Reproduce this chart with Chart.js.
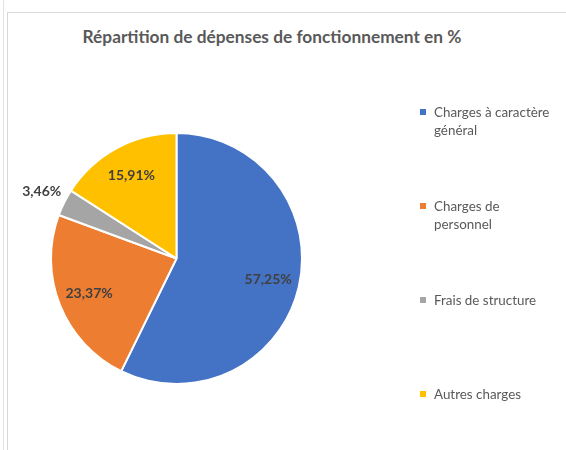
<!DOCTYPE html>
<html>
<head>
<meta charset="utf-8">
<script src="https://cdn.jsdelivr.net/npm/chart.js@4"></script>
<style>
  body { margin: 0; background: #fff; font-family: Lato, "Open Sans", sans-serif; }
  #wrap { position: relative; width: 566px; height: 450px; overflow: hidden; }
  #frame { position: absolute; left: 7px; top: 12px; width: 570px; height: 450px;
           border-left: 1px solid #d9d9d9; border-top: 1px solid #d9d9d9; }
  #edge { position: absolute; left: 3px; top: 0; width: 0; height: 450px; border-left: 1px solid #e3e3e3; }
  #title { position: absolute; left: 7px; width: 530px; top: 26px; text-align: center;
           font-weight: bold; font-size: 17.3px; color: #595959; }
  canvas { position: absolute; left: 0; top: 0; }
  .leg { position: absolute; left: 420px; font-size: 13.4px; line-height: 18px; color: #595959; }
  .leg i { position: absolute; left: 0; top: 6px; width: 6px; height: 6px; }
  .leg span { display: block; padding-left: 14px; }
</style>
</head>
<body>
<div id="wrap">
  <div id="edge"></div>
  <div id="frame"></div>
  <div id="title">Répartition de dépenses de fonctionnement en %</div>
  <canvas id="pie" width="566" height="450"></canvas>
  <div id="legend"></div>
</div>
<script>
const categories = [
  ['Charges à caractère', 'général'],
  ['Charges de', 'personnel'],
  ['Frais de structure'],
  ['Autres charges']
];
const shares = [57.25, 23.37, 3.46, 15.91];
const colors = ['#4472C4', '#ED7D31', '#A5A5A5', '#FFC000'];

// legend on the right
const legend = document.getElementById('legend');
categories.forEach((lines, i) => {
  const div = document.createElement('div');
  div.className = 'leg';
  div.style.top = (103 + i * 94) + 'px';
  div.innerHTML = `<i style="background:${colors[i]}"></i><span>${lines.join('<br>')}</span>`;
  legend.appendChild(div);
});

const pctLabels = {
  id: 'pctLabels',
  afterDatasetsDraw(chart) {
    const ctx = chart.ctx;
    const meta = chart.getDatasetMeta(0);
    ctx.save();
    ctx.font = 'bold 14px Lato, "Open Sans", sans-serif';
    ctx.fillStyle = '#404040';
    ctx.textAlign = 'center';
    ctx.textBaseline = 'middle';
    meta.data.forEach((arc, i) => {
      const p = arc.getProps(['x', 'y', 'startAngle', 'endAngle', 'outerRadius'], true);
      const mid = (p.startAngle + p.endAngle) / 2;
      const f = shares[i] < 5 ? 1.2 : 0.75;
      const x = p.x + Math.cos(mid) * p.outerRadius * f;
      const y = p.y + Math.sin(mid) * p.outerRadius * f;
      ctx.fillText(shares[i].toFixed(2).replace('.', ',') + '%', x, y);
    });
    ctx.restore();
  }
};

new Chart(document.getElementById('pie'), {
  type: 'pie',
  data: {
    labels: categories.map(l => l.join(' ')),
    datasets: [{
      data: shares,
      backgroundColor: colors,
      borderColor: '#fff',
      borderWidth: 2
    }]
  },
  options: {
    responsive: false,
    animation: false,
    layout: { padding: { left: 50, top: 132, right: 263, bottom: 65 } },
    plugins: { legend: { display: false }, tooltip: { enabled: false } }
  },
  plugins: [pctLabels]
});
</script>
</body>
</html>
